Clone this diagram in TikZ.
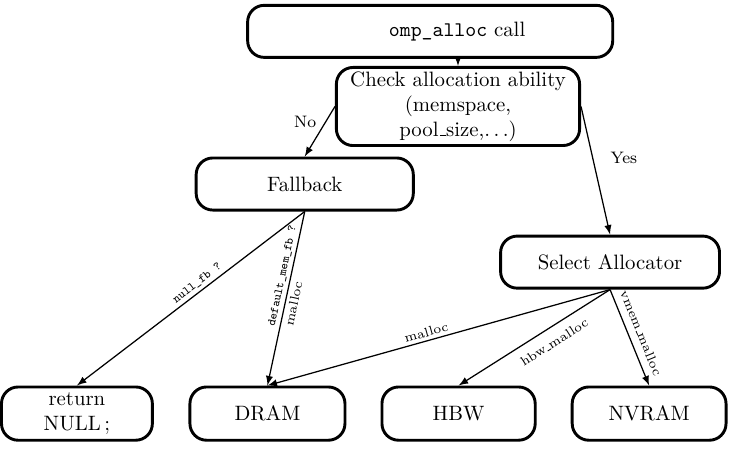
\documentclass[tikz,border=0pt]{standalone}
\newcommand{\usc}{\leavevmode\kern.06em\vbox{\hrule width.3em}}
\begin{document}
\begin{tikzpicture}[>=latex,
  box/.style={draw, line width=1.4pt, rounded corners=8pt, minimum height=0.88cm, align=center, inner sep=2pt},
  link/.style={->, semithick},
  lbl/.style={font=\fontsize{6.2}{7}\selectfont, sloped, inner sep=1.5pt},
  ttlbl/.style={font=\fontsize{5.8}{6}\selectfont\ttfamily, sloped, inner sep=1.5pt}]
\useasboundingbox (0,0) rectangle (12.32,7.66);
% top of the chart
\node[box, minimum width=6.17cm] (call) at (7.27,7.13) {\hspace*{0.91cm}\texttt{omp\_alloc} call};
\node[box, minimum width=4.11cm, minimum height=1.28cm] (check) at (7.74,5.86)
  {Check allocation ability\\(memspace,\\pool\usc size,$\ldots$)};
\node[box, minimum width=3.67cm] (fallback) at (5.15,4.55) {Fallback};
\node[box, minimum width=3.70cm] (select) at (10.31,3.23) {Select Allocator};
% bottom row
\node[box, minimum width=2.55cm, minimum height=0.90cm] (null) at (1.30,0.67) {return\\NULL\,;};
\node[box, minimum width=2.62cm, minimum height=0.90cm] (dram) at (4.52,0.67) {DRAM};
\node[box, minimum width=2.59cm, minimum height=0.90cm] (hbw) at (7.75,0.67) {HBW};
\node[box, minimum width=2.60cm, minimum height=0.90cm] (nvram) at (10.97,0.67) {NVRAM};
% connectors
\draw[link] (call.south -| check.north) -- (check.north);
\draw[link] (check.west) -- node[pos=0.3, left=1pt, font=\footnotesize] {No} (fallback.north);
\draw[link] (check.east) -- node[pos=0.4, right=5pt, font=\footnotesize] {Yes} (select.north);
\draw[link] (fallback.south) -- node[ttlbl, pos=0.45, above] {null\_fb ?} (null.north);
\draw[link] (fallback.south) -- node[ttlbl, pos=0.38, above] {default\_mem\_fb ?}
  node[lbl, pos=0.52, below] {malloc} (dram.north);
\draw[link] (select.south) -- node[lbl, pos=0.53, above] {malloc} (dram.north);
\draw[link] (select.south) -- node[lbl, pos=0.42, below=3pt] {hbw\usc malloc} (hbw.north);
\draw[link] (select.south) -- node[lbl, pos=0.5, above=2pt] {vmem\usc malloc} (nvram.north);
\end{tikzpicture}
\end{document}
